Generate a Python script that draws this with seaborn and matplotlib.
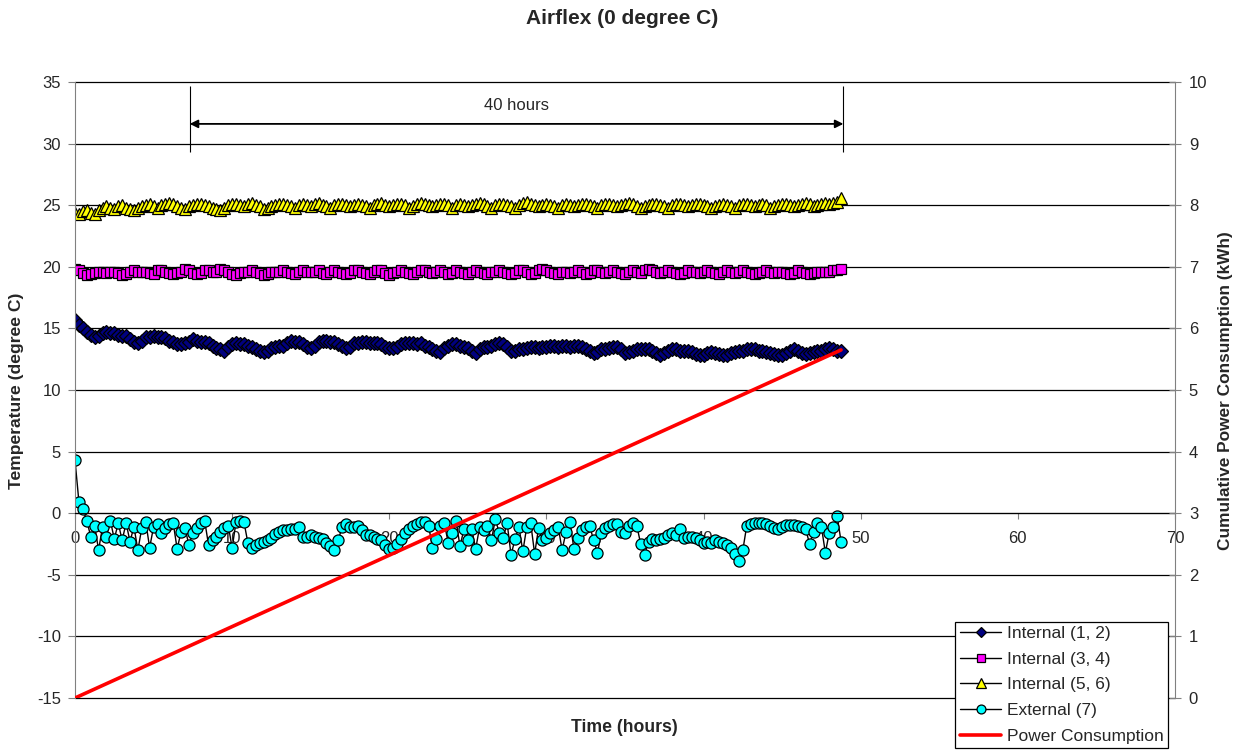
import numpy as np
import pandas as pd
import matplotlib
matplotlib.use("Agg")
import matplotlib.pyplot as plt
import seaborn as sns

# logger interval (hours)
sample_step_h = 0.25

# Internal (1, 2) temperature, degree C
internal_12 = [
    15.7, 15.3, 15.0, 14.7, 14.5, 14.3, 14.4, 14.6,
    14.7, 14.6, 14.6, 14.5, 14.4, 14.4, 14.1, 13.9,
    13.8, 14.0, 14.3, 14.3, 14.4, 14.3, 14.3, 14.2,
    14.0, 13.9, 13.7, 13.7, 13.8, 13.9, 14.1, 14.0,
    13.9, 13.9, 13.8, 13.6, 13.4, 13.3, 13.2, 13.5,
    13.7, 13.8, 13.7, 13.7, 13.6, 13.5, 13.3, 13.2,
    13.1, 13.2, 13.4, 13.5, 13.6, 13.6, 13.8, 14.0,
    13.9, 13.9, 13.7, 13.5, 13.4, 13.6, 13.9, 14.0,
    14.0, 13.9, 13.9, 13.7, 13.6, 13.4, 13.5, 13.8,
    13.8, 13.9, 13.9, 13.8, 13.8, 13.8, 13.7, 13.5,
    13.4, 13.4, 13.5, 13.7, 13.8, 13.8, 13.8, 13.7,
    13.8, 13.6, 13.5, 13.3, 13.2, 13.1, 13.4, 13.6,
    13.7, 13.7, 13.6, 13.5, 13.4, 13.2, 13.0, 13.3,
    13.5, 13.5, 13.6, 13.7, 13.8, 13.7, 13.5, 13.2,
    13.2, 13.3, 13.3, 13.4, 13.5, 13.5, 13.4, 13.5,
    13.5, 13.6, 13.6, 13.5, 13.6, 13.6, 13.5, 13.6,
    13.6, 13.5, 13.3, 13.2, 13.0, 13.1, 13.3, 13.3,
    13.4, 13.5, 13.5, 13.3, 13.0, 13.1, 13.2, 13.3,
    13.3, 13.3, 13.3, 13.2, 13.0, 12.8, 13.0, 13.2,
    13.3, 13.3, 13.2, 13.2, 13.2, 13.1, 12.9, 12.8,
    12.8, 13.0, 13.1, 13.0, 12.9, 12.8, 12.8, 13.0,
    13.1, 13.2, 13.2, 13.3, 13.3, 13.3, 13.2, 13.2,
    13.1, 13.0, 12.9, 12.8, 12.8, 13.0, 13.2, 13.3,
    13.2, 13.0, 12.9, 13.0, 13.1, 13.2, 13.2, 13.3,
    13.4, 13.3, 13.2, 13.2,
]

# Internal (3, 4)
internal_34 = [
    19.8, 19.7, 19.5, 19.3, 19.4, 19.5, 19.6, 19.6,
    19.5, 19.6, 19.6, 19.5, 19.3, 19.4, 19.6, 19.7,
    19.6, 19.6, 19.6, 19.5, 19.4, 19.7, 19.7, 19.6,
    19.5, 19.4, 19.5, 19.6, 19.8, 19.7, 19.5, 19.4,
    19.5, 19.7, 19.7, 19.6, 19.6, 19.8, 19.7, 19.6,
    19.4, 19.3, 19.5, 19.6, 19.6, 19.7, 19.6, 19.5,
    19.3, 19.4, 19.6, 19.6, 19.6, 19.7, 19.6, 19.5,
    19.4, 19.6, 19.7, 19.6, 19.6, 19.6, 19.7, 19.5,
    19.4, 19.6, 19.7, 19.6, 19.5, 19.4, 19.5, 19.7,
    19.7, 19.6, 19.5, 19.4, 19.6, 19.7, 19.7, 19.5,
    19.3, 19.5, 19.6, 19.7, 19.6, 19.5, 19.4, 19.6,
    19.7, 19.7, 19.6, 19.5, 19.6, 19.7, 19.6, 19.4,
    19.5, 19.7, 19.6, 19.5, 19.4, 19.6, 19.7, 19.6,
    19.5, 19.4, 19.6, 19.6, 19.7, 19.6, 19.5, 19.4,
    19.5, 19.7, 19.7, 19.6, 19.4, 19.5, 19.7, 19.8,
    19.7, 19.6, 19.5, 19.4, 19.6, 19.6, 19.5, 19.6,
    19.7, 19.6, 19.4, 19.5, 19.7, 19.7, 19.6, 19.5,
    19.6, 19.7, 19.6, 19.5, 19.4, 19.6, 19.7, 19.6,
    19.5, 19.7, 19.8, 19.7, 19.6, 19.5, 19.6, 19.7,
    19.6, 19.5, 19.4, 19.5, 19.7, 19.6, 19.6, 19.5,
    19.6, 19.7, 19.6, 19.5, 19.4, 19.6, 19.7, 19.6,
    19.5, 19.6, 19.7, 19.6, 19.5, 19.4, 19.5, 19.6,
    19.7, 19.6, 19.5, 19.6, 19.6, 19.5, 19.4, 19.5,
    19.7, 19.6, 19.5, 19.4, 19.5, 19.6, 19.6, 19.6,
    19.6, 19.7, 19.7, 19.8,
]

# Internal (5, 6)
internal_56 = [
    24.4, 24.3, 24.5, 24.6, 24.4, 24.3, 24.6, 24.8,
    24.9, 24.8, 24.7, 24.9, 25.0, 24.8, 24.7, 24.6,
    24.8, 24.9, 25.0, 25.1, 24.9, 24.8, 25.0, 25.1,
    25.2, 25.1, 24.9, 24.8, 24.7, 24.9, 25.0, 25.1,
    25.1, 25.0, 24.9, 24.8, 24.7, 24.6, 24.8, 25.0,
    25.1, 25.1, 25.0, 24.9, 25.1, 25.2, 25.0, 24.9,
    24.7, 24.8, 24.9, 25.0, 25.1, 25.1, 25.0, 24.9,
    24.8, 25.0, 25.1, 25.0, 24.9, 25.1, 25.2, 25.0,
    24.9, 24.8, 25.0, 25.1, 25.1, 25.0, 24.9, 25.0,
    25.1, 25.0, 24.9, 24.8, 25.0, 25.1, 25.2, 25.0,
    24.9, 25.0, 25.1, 25.1, 25.0, 24.8, 24.9, 25.1,
    25.2, 25.1, 25.0, 24.9, 25.0, 25.1, 25.1, 25.0,
    24.8, 25.0, 25.1, 25.0, 24.9, 25.0, 25.1, 25.2,
    25.1, 24.9, 24.8, 25.0, 25.1, 25.1, 25.0, 24.9,
    24.8, 25.0, 25.2, 25.3, 25.1, 25.0, 24.9, 25.0,
    25.1, 25.0, 24.9, 24.8, 25.0, 25.1, 25.0, 24.9,
    25.0, 25.1, 25.1, 25.0, 24.9, 24.8, 25.0, 25.1,
    25.1, 25.0, 24.9, 25.0, 25.1, 25.2, 25.1, 24.9,
    24.8, 24.9, 25.0, 25.1, 25.1, 25.0, 24.9, 24.8,
    25.0, 25.1, 25.1, 25.0, 24.9, 25.0, 25.1, 25.1,
    25.0, 24.9, 24.8, 24.9, 25.0, 25.1, 25.0, 24.9,
    24.8, 25.0, 25.1, 25.1, 25.0, 24.9, 25.0, 25.1,
    25.0, 24.8, 24.9, 25.0, 25.1, 25.1, 25.0, 24.9,
    25.0, 25.1, 25.2, 25.1, 24.9, 25.0, 25.1, 25.2,
    25.1, 25.2, 25.3, 25.6,
]

# External (7)
external_7 = [
    4.3, 0.9, 0.3, -0.6, -1.9, -1.0, -3.0, -1.1,
    -1.9, -0.6, -2.1, -0.8, -2.2, -0.8, -2.3, -1.1,
    -3.0, -1.2, -0.7, -2.8, -1.1, -0.9, -1.6, -1.2,
    -0.9, -0.8, -2.9, -1.5, -1.2, -2.6, -1.6, -1.2,
    -0.8, -0.6, -2.6, -2.2, -1.9, -1.5, -1.2, -1.0,
    -2.8, -0.7, -0.6, -0.7, -2.4, -2.8, -2.6, -2.4,
    -2.3, -2.2, -2.0, -1.7, -1.5, -1.4, -1.4, -1.3,
    -1.3, -1.1, -1.9, -1.9, -1.8, -1.9, -2.0, -2.1,
    -2.4, -2.7, -3.0, -2.2, -1.1, -0.9, -1.1, -1.1,
    -1.0, -1.4, -1.8, -1.8, -1.9, -2.1, -2.2, -2.6,
    -2.9, -2.8, -2.5, -2.1, -1.6, -1.3, -1.0, -0.9,
    -0.7, -0.7, -1.0, -2.8, -2.1, -1.0, -0.8, -2.4,
    -1.6, -0.6, -2.7, -1.3, -2.2, -1.3, -2.9, -1.1,
    -1.4, -1.0, -2.2, -0.5, -1.6, -2.0, -0.8, -3.4,
    -2.1, -1.1, -3.1, -1.1, -0.8, -3.3, -1.2, -2.2,
    -2.0, -1.6, -1.4, -1.1, -3.0, -1.5, -0.7, -2.9,
    -2.0, -1.4, -1.1, -1.0, -2.2, -3.2, -1.6, -1.2,
    -1.0, -0.9, -0.9, -1.5, -1.6, -1.0, -0.8, -1.0,
    -2.5, -3.4, -2.3, -2.1, -2.2, -2.1, -2.0, -1.8,
    -1.6, -1.8, -1.3, -2.0, -1.9, -1.9, -2.0, -2.2,
    -2.4, -2.3, -2.4, -2.2, -2.3, -2.4, -2.6, -2.8,
    -3.3, -3.9, -3.0, -1.0, -0.9, -0.8, -0.8, -0.8,
    -0.85, -1.0, -1.2, -1.3, -1.1, -0.95, -0.95, -0.95,
    -1.0, -1.1, -1.3, -2.5, -1.5, -0.8, -1.1, -3.2,
    -1.6, -1.1, -0.2, -2.3,
]

# cumulative power consumption (kWh), straight line
power_hours = [0.0, 48.75]
power_kwh = [0.0, 5.65]

# dimension marker at the top
span_start = 7.3
span_end = 48.9
span_text = "40 hours"

hours = np.arange(len(external_7)) * sample_step_h
df = pd.DataFrame({
    "hours": hours,
    "int12": internal_12,
    "int34": internal_34,
    "int56": internal_56,
    "ext7": external_7,
})
power_df = pd.DataFrame({"hours": power_hours, "kwh": power_kwh})

sns.set_style("white")
plt.rcParams["font.family"] = ["Liberation Sans", "DejaVu Sans"]
plt.rcParams["axes.unicode_minus"] = False

fig = plt.figure(figsize=(12.44, 7.51), dpi=100)
ax = fig.add_axes([0.0603, 0.0706, 0.8842, 0.8202])

series = [
    ("Internal (1, 2)", "int12", "D", "#000080", 7.0),
    ("Internal (3, 4)", "int34", "s", "#FF00FF", 7.5),
    ("Internal (5, 6)", "int56", "^", "#FFFF00", 8.5),
    ("External (7)", "ext7", "o", "#00FFFF", 8.0),
]
handles = []
labels = []
for label, col, marker, face, size in series:
    sns.lineplot(data=df, x="hours", y=col, ax=ax, color="black", lw=1,
                 marker=marker, markersize=size, markerfacecolor=face,
                 markeredgecolor="black", markeredgewidth=0.9,
                 legend=False, sort=False, estimator=None)
    handles.append(ax.lines[-1])
    labels.append(label)

ax.set_xlim(0, 70)
ax.set_ylim(-15, 35)
ax.set_xticks(range(0, 71, 10))
ax.set_yticks(range(-15, 36, 5))
ax.set_xlabel("")
ax.set_ylabel("")
ax.grid(axis="y", color="black", lw=0.9)
ax.grid(axis="x", visible=False)
ax.set_axisbelow(True)
for gl in ax.get_ygridlines():
    gl.set_clip_on(False)

ax.spines["bottom"].set_position(("data", 0))
ax.spines["bottom"].set_color("black")
ax.spines["top"].set_visible(False)
ax.spines["right"].set_visible(False)
ax.spines["left"].set_color("#808080")
ax.tick_params(axis="x", direction="out", length=4, color="#808080",
               pad=9, labelsize=12, bottom=True)
ax.tick_params(axis="y", direction="out", length=5, color="#808080",
               pad=5, labelsize=12, left=True)

# 40 hours marker
ax.vlines([span_start, span_end], 29.3, 34.7, color="black", lw=0.8)
ax.annotate("", xy=(span_end, 31.6), xytext=(span_start, 31.6),
            arrowprops=dict(arrowstyle="<|-|>", color="black", lw=1.3,
                            mutation_scale=12, shrinkA=0, shrinkB=0))
ax.text((span_start + span_end) / 2, 33.1, span_text, ha="center",
        va="center", fontsize=12)

# power on secondary axis
ax2 = ax.twinx()
sns.lineplot(data=power_df, x="hours", y="kwh", ax=ax2, color="#FF0000",
             lw=2.6, legend=False, sort=False, estimator=None)
handles.append(ax2.lines[-1])
labels.append("Power Consumption")

ax2.set_ylim(0, 10)
ax2.set_yticks(range(0, 11))
ax2.set_ylabel("")
for side in ["left", "top", "bottom"]:
    ax2.spines[side].set_visible(False)
ax2.spines["right"].set_color("#808080")
ax2.tick_params(axis="y", direction="inout", length=8, color="#808080",
                pad=6, labelsize=12, right=True)

leg = ax2.legend(handles, labels, loc="upper left",
                 bbox_to_anchor=(0.768, 0.172), bbox_transform=fig.transFigure,
                 frameon=True, fancybox=False, framealpha=1, edgecolor="black",
                 fontsize=12.5, borderpad=0.25, labelspacing=0.6,
                 handlelength=2.4, handletextpad=0.3, borderaxespad=0,
                 markerscale=0.8)
leg.get_frame().set_linewidth(0.9)

fig.text(0.5, 0.975, "Airflex (0 degree C)", ha="center", va="center",
         fontsize=15, fontweight="bold")
fig.text(0.502, 0.031, "Time (hours)", ha="center", va="center",
         fontsize=12.7, fontweight="bold")
fig.text(0.0135, 0.48, "Temperature (degree C)", ha="center", va="center",
         rotation=90, fontsize=12.6, fontweight="bold")
fig.text(0.985, 0.48, "Cumulative Power Consumption (kWh)", ha="center",
         va="center", rotation=90, fontsize=12.4, fontweight="bold")

fig.savefig("out.png", dpi=100)
